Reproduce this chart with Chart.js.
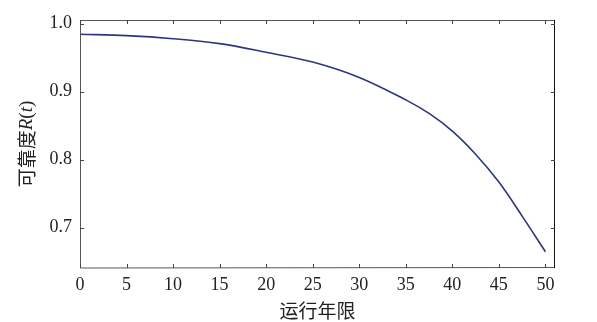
<!DOCTYPE html>
<html>
<head>
<meta charset="utf-8">
<script src="https://cdn.jsdelivr.net/npm/chart.js@4.4.0/dist/chart.umd.min.js"></script>
<style>
  html, body { margin: 0; padding: 0; background: #fff; }
  #wrap { width: 597px; height: 322px; position: relative; }
</style>
</head>
<body>
<div id="wrap"><canvas id="chart" width="597" height="322"></canvas></div>
<script>
// values
const years = [0, 5, 10, 15, 20, 25, 30, 35, 37.5, 40, 42.5, 45, 47.5, 50];
const reliability = [0.9845, 0.9825, 0.978, 0.9707, 0.958, 0.9437, 0.921, 0.888, 0.868, 0.842, 0.808, 0.767, 0.717, 0.6646];
const xTicks = [0, 5, 10, 15, 20, 25, 30, 35, 40, 45, 50];
const yTicks = [0.7, 0.8, 0.9, 1.0];
const xTitle = '运行年限';

const serif = '"Liberation Serif", "DejaVu Serif", serif';
const cjk = '"Noto Sans CJK SC", sans-serif';

// frame with inward tick marks on all four sides, plus the mixed-font y title
const framePlugin = {
  id: 'frame',
  afterDraw(chart) {
    const ctx = chart.ctx;
    const a = chart.chartArea;
    const xs = chart.scales.x, ys = chart.scales.y;
    const len = 4;
    ctx.save();
    ctx.lineWidth = 1;
    ctx.strokeStyle = '#5a5454';
    ctx.beginPath();
    ctx.moveTo(a.left + 0.5, a.top + 0.5);
    ctx.lineTo(a.right - 0.5, a.top + 0.5);
    ctx.moveTo(a.left + 0.5, a.top);
    ctx.lineTo(a.left + 0.5, a.bottom);
    ctx.lineTo(a.right, a.bottom - 0.5);
    ctx.stroke();
    ctx.strokeStyle = '#111';
    ctx.beginPath();
    ctx.moveTo(a.right - 0.5, a.top);
    ctx.lineTo(a.right - 0.5, a.bottom);
    ctx.stroke();

    ctx.strokeStyle = '#444';
    ctx.beginPath();
    xTicks.forEach(v => {
      const px = Math.round(xs.getPixelForValue(v)) + 0.5;
      ctx.moveTo(px, a.bottom); ctx.lineTo(px, a.bottom - len);
      ctx.moveTo(px, a.top); ctx.lineTo(px, a.top + len);
    });
    yTicks.forEach(v => {
      const py = Math.round(ys.getPixelForValue(v)) + 0.5;
      ctx.moveTo(a.left, py); ctx.lineTo(a.left + len, py);
      ctx.moveTo(a.right, py); ctx.lineTo(a.right - len, py);
    });
    ctx.stroke();

    // y title: 可靠度R(t), R and t in italic
    const parts = [
      { t: '可靠度', f: '19px ' + cjk },
      { t: 'R', f: 'italic 19px ' + serif },
      { t: '(', f: '19px ' + serif },
      { t: 't', f: 'italic 19px ' + serif },
      { t: ')', f: '19px ' + serif }
    ];
    let total = 0;
    parts.forEach(p => { ctx.font = p.f; p.w = ctx.measureText(p.t).width; total += p.w; });
    ctx.translate(27, (a.top + a.bottom) / 2);
    ctx.rotate(-Math.PI / 2);
    ctx.fillStyle = '#222';
    ctx.textBaseline = 'middle';
    let x = -total / 2;
    parts.forEach(p => { ctx.font = p.f; ctx.fillText(p.t, x, 0); x += p.w; });
    ctx.restore();
  }
};

new Chart(document.getElementById('chart'), {
  type: 'line',
  data: {
    datasets: [{
      data: years.map((x, i) => ({ x: x, y: reliability[i] })),
      borderColor: '#2e3480',
      borderWidth: 1.6,
      pointRadius: 0,
      fill: false,
      tension: 0.35
    }]
  },
  options: {
    responsive: false,
    animation: false,
    layout: { padding: { left: 0, right: 42, top: 20, bottom: 0 } },
    plugins: { legend: { display: false }, tooltip: { enabled: false } },
    scales: {
      x: {
        type: 'linear',
        min: 0,
        max: 51.03,
        afterFit(s) { s.height = 54; },
        afterBuildTicks(s) { s.ticks = xTicks.map(v => ({ value: v })); },
        grid: { display: false, drawTicks: false },
        border: { display: false },
        ticks: { color: '#222', padding: 6, maxRotation: 0, font: { family: serif, size: 18 } },
        title: { display: true, text: xTitle, color: '#222', padding: { top: 0, bottom: 0 }, font: { family: cjk, size: 19 } }
      },
      y: {
        min: 0.6406,
        max: 1.0055,
        afterFit(s) { s.width = 80; },
        afterBuildTicks(s) { s.ticks = yTicks.map(v => ({ value: v })); },
        grid: { display: false, drawTicks: false },
        border: { display: false },
        ticks: { color: '#222', padding: 8, font: { family: serif, size: 18 }, callback: v => v.toFixed(1) }
      }
    }
  },
  plugins: [framePlugin]
});
</script>
</body>
</html>
